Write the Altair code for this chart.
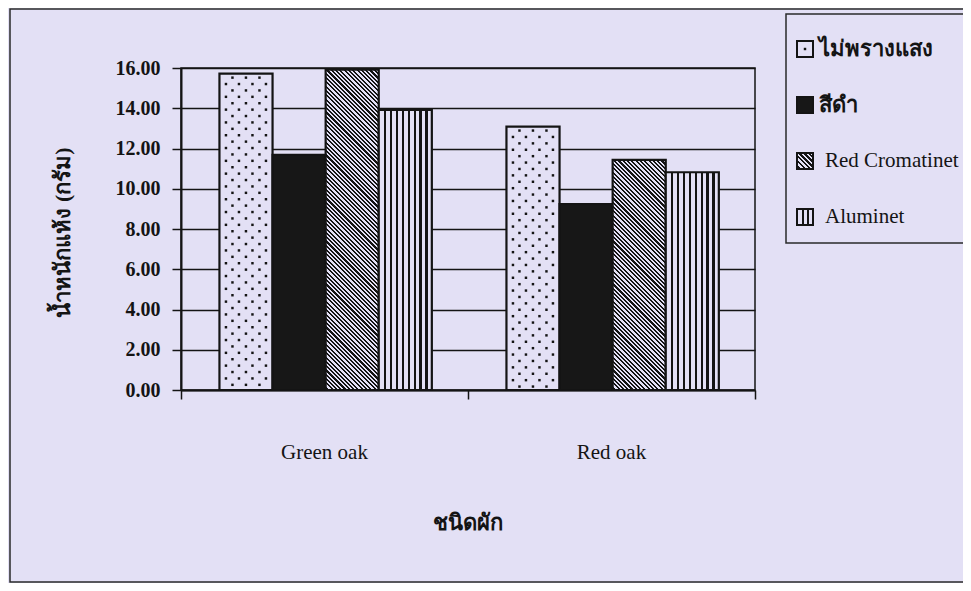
import altair as alt
import pandas as pd

# ---------------- data ----------------
categories = ["Green oak", "Red oak"]
series = ["ไม่พรางแสง", "สีดำ", "Red Cromatinet", "Aluminet"]
values_green_oak = [15.72, 11.68, 15.92, 13.92]
values_red_oak = [13.09, 9.24, 11.43, 10.82]
y_ticks = [0, 2, 4, 6, 8, 10, 12, 14, 16]
x_title = "ชนิดผัก"
y_title = "น้ำหนักแห้ง (กรัม)"

# ---------------- style / layout ----------------
BG = "#e3e0f5"
INK = "#141414"
FONT = "Liberation Serif"
W, H = 574, 322
XMAX, YMAX = 2, 16
PX_X = W / XMAX
PX_Y = H / YMAX
GROUP_PAD = 0.134
BAR_W = 0.185
BAR_PX = BAR_W * PX_X

rows = []
for gi, (cat, vals) in enumerate(zip(categories, [values_green_oak, values_red_oak])):
    for si, (s, v) in enumerate(zip(series, vals)):
        x0 = gi + GROUP_PAD + si * BAR_W
        rows.append(dict(category=cat, series=s, value=v, si=si, gi=gi, x0=x0, x1=x0 + BAR_W))
df = pd.DataFrame(rows)

cat_df = pd.DataFrame({"category": categories, "xc": [i + 0.5 for i in range(len(categories))]})


def stripe_stops(period, dark, start, tmax):
    stops = [{"offset": 0, "color": BG}]
    a = start
    while a < tmax:
        b = a + dark * period
        a0 = max(0.0, min(1.0, a))
        b0 = max(0.0, min(1.0, b))
        if b0 > a0:
            stops += [{"offset": a0, "color": BG}, {"offset": a0, "color": INK},
                      {"offset": b0, "color": INK}, {"offset": b0, "color": BG}]
        a += period
    stops.append({"offset": 1, "color": BG})
    return stops


def diag_gradient(w, h, p=4.3, dark=0.48):
    k = w / (w * w + h * h)
    return {"gradient": "linear", "x1": 0, "y1": 1, "x2": 1, "y2": 1 - h / w,
            "stops": stripe_stops(p * k, dark, 0.5 * p * k, (w + h) * k + 0.01)}


def vert_gradient(w, p=5.9, dark=0.38):
    return {"gradient": "linear", "x1": 0, "y1": 0, "x2": 1, "y2": 0,
            "stops": stripe_stops(p / w, dark, 0.9 * p / w, 1.0)}


# dotted texture inside the first series' bars
dot_rows = []
for r in rows:
    if r["si"] != 0:
        continue
    h = r["value"] * PX_Y
    k = 0
    while True:
        dy = 4 + k * 6.4
        if dy > h - 3:
            break
        offs = [13, 26.5, 40] if k % 2 == 0 else [6.5, 19.5, 33, 46.5]
        for o in offs:
            dot_rows.append(dict(x0=r["x0"] + o / PX_X, value=r["value"] - dy / PX_Y))
        k += 1
dots_df = pd.DataFrame(dot_rows)

xscale = alt.Scale(domain=[0, XMAX], nice=False, zero=False)
yscale = alt.Scale(domain=[0, YMAX], nice=False)

xaxis = alt.Axis(values=[0, 1, 2], labels=False, tickSize=9, tickColor=INK, tickWidth=1.5,
                 domainColor=INK, domainWidth=2, grid=False, title=x_title,
                 titleFont=FONT, titleFontSize=22, titleFontWeight="bold", titleColor=INK,
                 titleX=286, titleY=132, titleAlign="center", titleBaseline="middle")
yaxis = alt.Axis(values=y_ticks, format=".2f", tickSize=9, labelPadding=12, labelFont=FONT,
                 labelFontSize=20, labelFontWeight="bold", labelColor=INK,
                 grid=True, gridColor=INK, gridWidth=1.3, domainColor=INK, domainWidth=2,
                 tickColor=INK, tickWidth=1.5, title=y_title, titleFont=FONT, titleFontSize=22,
                 titleFontWeight="bold", titleColor=INK, titleX=-119, titleY=164,
                 titleAngle=270, titleAlign="center", titleBaseline="middle")


def enc(ch):
    return ch.encode(
        x=alt.X("x0:Q", scale=xscale, axis=xaxis),
        x2="x1:Q",
        y=alt.Y("value:Q", scale=yscale, axis=yaxis),
        y2=alt.datum(0),
    )


base = alt.Chart(df)
layers = []
# series 0: dotted bars
layers.append(enc(base.transform_filter(alt.datum.si == 0).mark_rect(fill=BG, stroke=INK, strokeWidth=2.2)))
layers.append(alt.Chart(dots_df).mark_square(size=6, color=INK, opacity=1).encode(
    x=alt.X("x0:Q", scale=xscale, axis=xaxis), y=alt.Y("value:Q", scale=yscale, axis=yaxis)))
# series 1: black bars
layers.append(enc(base.transform_filter(alt.datum.si == 1).mark_rect(fill="#171717", stroke=INK, strokeWidth=2.2)))
# series 2: diagonal stripes, one gradient per bar (depends on bar height)
for r in rows:
    if r["si"] == 2:
        g = diag_gradient(BAR_PX, r["value"] * PX_Y)
        layers.append(enc(base.transform_filter((alt.datum.si == 2) & (alt.datum.gi == r["gi"]))
                          .mark_rect(fill=g, stroke=INK, strokeWidth=2.2)))
# series 3: vertical stripes
layers.append(enc(base.transform_filter(alt.datum.si == 3).mark_rect(fill=vert_gradient(BAR_PX), stroke=INK, strokeWidth=2.2)))

# category labels
layers.append(alt.Chart(cat_df).mark_text(font=FONT, fontSize=21, color=INK, baseline="middle").encode(
    x=alt.X("xc:Q", scale=xscale, axis=xaxis), y=alt.value(385), text="category:N"))

one = pd.DataFrame({"a": [0]})
# outer frame and legend box
layers.append(alt.Chart(one).mark_rect(fill=None, stroke="#2a2a2a", strokeWidth=1.5).encode(
    x=alt.value(-171), x2=alt.value(805), y=alt.value(-59), y2=alt.value(514)))
layers.append(alt.Chart(one).mark_rect(fill=None, stroke="#2a2a2a", strokeWidth=1.5).encode(
    x=alt.value(605), x2=alt.value(805), y=alt.value(-54), y2=alt.value(175)))

# custom legend
LEG_X0, LEG_S, LEG_Y0, LEG_DY = 616, 16, -19, 56
leg_fills = [BG, "#171717", diag_gradient(LEG_S, LEG_S, p=4.8, dark=0.5), vert_gradient(LEG_S, p=5.3, dark=0.42)]
for i, s in enumerate(series):
    yc = LEG_Y0 + i * LEG_DY
    ldf = pd.DataFrame({"series": [s]})
    thai = any("\u0e00" <= ch <= "\u0e7f" for ch in s)
    layers.append(alt.Chart(ldf).mark_rect(fill=leg_fills[i], stroke=INK, strokeWidth=2).encode(
        x=alt.value(LEG_X0), x2=alt.value(LEG_X0 + LEG_S),
        y=alt.value(yc - LEG_S / 2), y2=alt.value(yc + LEG_S / 2)))
    if i == 0:
        layers.append(alt.Chart(ldf).mark_square(size=6, color=INK, opacity=1).encode(
            x=alt.value(LEG_X0 + LEG_S / 2), y=alt.value(yc)))
    layers.append(alt.Chart(ldf).mark_text(
        font=FONT, fontSize=22 if thai else 21, fontWeight="bold" if thai else "normal",
        color=INK, align="left", baseline="middle").encode(
        x=alt.value(638 if thai else 644), y=alt.value(yc), text="series:N"))

chart = alt.layer(*layers).properties(
    width=W, height=H,
    padding={"left": 173, "top": 60, "right": 208, "bottom": 193},
    autosize=alt.AutoSizeParams(type="none"),
    background=BG,
).configure_view(stroke=INK, strokeWidth=1.5)

chart.save("out.html", embed_options={"renderer": "svg", "actions": False})
